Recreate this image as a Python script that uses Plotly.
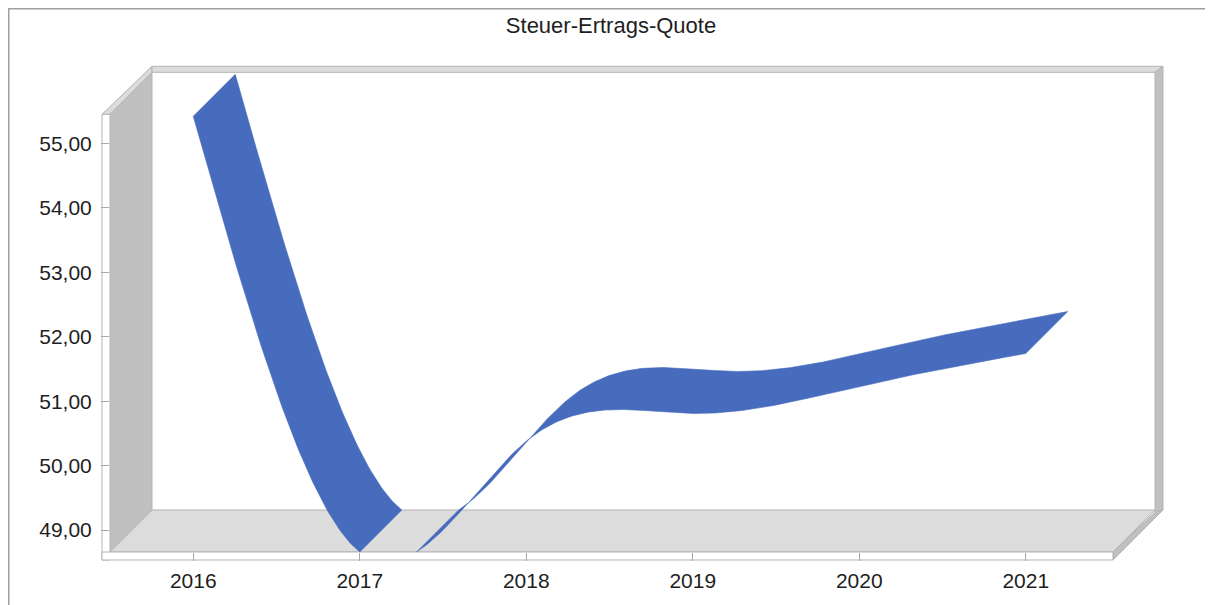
import numpy as np
import plotly.graph_objects as go

# ---------------- data ----------------
chart_title = "Steuer-Ertrags-Quote"
years = [2016, 2017, 2018, 2019, 2020, 2021]
quote = [55.42, 48.66, 50.38, 50.81, 51.23, 51.74]
year_labels = ["2016", "2017", "2018", "2019", "2020", "2021"]
y_tick_values = [49, 50, 51, 52, 53, 54, 55]
y_tick_labels = ["49,00", "50,00", "51,00", "52,00", "53,00", "54,00", "55,00"]

# ---------------- layout constants (pixels, figure coords; page has 8px body margin) ----------------
OFF = 8
FIG_W, FIG_H = 1213 - OFF, 605 - OFF
PL, PR = 110 - OFF, 1162 - OFF      # plot area left / right (px)
PT, PB = 66 - OFF, 552 - OFF        # plot area top / bottom (px)
FRONT_R = 1113 - OFF                # right end of the front floor edge
PX_PER_YEAR = 166.5
PX_PER_UNIT = 64.45
DEPTH = 42                  # 3D depth offset in px (right and up)
TH = 8                      # wall thickness in px
BLUE = "#476BBD"
FONT = "Liberation Sans"

y_min = min(quote)
x_lo = years[0] - 0.5
x_rng = [x_lo, x_lo + (PR - PL) / PX_PER_YEAR]
y_rng = [y_min, y_min + (PB - PT) / PX_PER_UNIT]
ddx = DEPTH / PX_PER_YEAR     # depth offset in axis units
ddy = DEPTH / PX_PER_UNIT


def natural_spline(xs, ys, n=80):
    """Smooth rendering path through the data points (natural cubic spline)."""
    xs = np.asarray(xs, float)
    ys = np.asarray(ys, float)
    k = len(xs)
    h = np.diff(xs)
    A = np.zeros((k, k))
    rhs = np.zeros(k)
    A[0, 0] = A[-1, -1] = 1.0
    for i in range(1, k - 1):
        A[i, i - 1] = h[i - 1]
        A[i, i] = 2 * (h[i - 1] + h[i])
        A[i, i + 1] = h[i]
        rhs[i] = 6 * ((ys[i + 1] - ys[i]) / h[i] - (ys[i] - ys[i - 1]) / h[i - 1])
    M = np.linalg.solve(A, rhs)
    tt, vv = [], []
    for i in range(k - 1):
        s = np.linspace(0, 1, n, endpoint=(i == k - 2))
        a = 1 - s
        t = xs[i] + s * h[i]
        v = a * ys[i] + s * ys[i + 1] + ((a ** 3 - a) * M[i] + (s ** 3 - s) * M[i + 1]) * h[i] ** 2 / 6
        tt.append(t)
        vv.append(v)
    return np.concatenate(tt), np.concatenate(vv)


t, v = natural_spline(years, quote)

# split the ribbon where it falls below the floor (axis minimum)
vis = v >= y_min - 1e-9
segments = []
i = 0
n = len(t)
while i < n:
    if not vis[i]:
        i += 1
        continue
    j = i
    while j + 1 < n and vis[j + 1]:
        j += 1
    ts = list(t[i:j + 1])
    vs = list(v[i:j + 1])
    if i > 0 and not vis[i - 1]:
        f = (y_min - v[i - 1]) / (v[i] - v[i - 1])
        ts.insert(0, t[i - 1] + f * (t[i] - t[i - 1]))
        vs.insert(0, y_min)
    if j + 1 < n and not vis[j + 1]:
        f = (y_min - v[j]) / (v[j + 1] - v[j])
        ts.append(t[j] + f * (t[j + 1] - t[j]))
        vs.append(y_min)
    segments.append((np.array(ts), np.array(vs)))
    i = j + 1

fig = go.Figure()
for ts, vs in segments:
    xf, yf = ts, vs
    xb, yb = ts + ddx, vs + ddy
    xp = np.concatenate([xf, xb[::-1], xf[:1]])
    yp = np.concatenate([yf, yb[::-1], yf[:1]])
    fig.add_trace(go.Scatter(x=xp, y=yp, mode="lines", fill="toself",
                             fillcolor=BLUE, line=dict(color=BLUE, width=0.6),
                             hoverinfo="skip", showlegend=False))


# ---------------- 3D frame (paper coordinates from pixel geometry) ----------------
def px(xp):
    return (xp - PL) / (PR - PL)


def py(yp):
    return (PB - yp) / (PB - PT)


def poly(points, fill, line="#b4b4b4", lw=1):
    d = "M " + " L ".join(f"{px(a):.5f},{py(b):.5f}" for a, b in points) + " Z"
    return dict(type="path", xref="paper", yref="paper", path=d, fillcolor=fill,
                line=dict(color=line, width=lw), layer="below")


y_front_top = PB - (max(quote) - y_min) * PX_PER_UNIT - 2
BX0, BY0 = PL + DEPTH, PB - DEPTH              # back-left-bottom corner
BR = FRONT_R + DEPTH
BT = y_front_top - DEPTH

shapes = [
    # outer border
    dict(type="rect", xref="paper", yref="paper", x0=px(0.75), y0=py(0.75), x1=px(1260), y1=py(660),
         line=dict(color="#a0a0a0", width=1.5), fillcolor="rgba(0,0,0,0)", layer="below"),
    # floor top face
    poly([(PL, PB), (FRONT_R, PB), (BR, BY0), (BX0, BY0)], "#dcdcdc"),
    # left wall inner face
    poly([(PL, PB), (PL, y_front_top), (BX0, BT), (BX0, BY0)], "#c0c0c0"),
    # left wall top face
    poly([(PL - TH, y_front_top), (PL, y_front_top), (BX0, BT), (BX0, BT - TH + 2)], "#dcdcdc"),
    # back wall top face
    poly([(BX0, BT), (BR, BT), (BR + TH, BT - TH + 2), (BX0, BT - TH + 2)], "#dcdcdc"),
    # back wall right face
    poly([(BR, BT), (BR + TH, BT - TH + 2), (BR + TH, BY0), (BR, BY0 + 2)], "#c0c0c0"),
    # floor right face
    poly([(FRONT_R, PB), (BR, BY0 + 2), (BR + TH, BY0), (FRONT_R, PB + TH)], "#c0c0c0"),
    # left axis strip (front face of left wall)
    poly([(PL - TH, y_front_top), (PL, y_front_top), (PL, PB + TH), (PL - TH, PB + TH)], "#ffffff"),
    # bottom axis strip (front face of floor)
    poly([(PL - TH, PB), (FRONT_R, PB), (FRONT_R, PB + TH), (PL - TH, PB + TH)], "#ffffff"),
]

axis_font = dict(family=FONT, size=21, color="#1e1e1e")
fig.update_layout(
    width=FIG_W, height=FIG_H,
    margin=dict(l=PL, r=FIG_W - PR, t=PT, b=FIG_H - PB, pad=0),
    paper_bgcolor="white", plot_bgcolor="rgba(0,0,0,0)",
    title=dict(text=chart_title, xref="container", yref="container",
               x=(611 - OFF) / FIG_W, y=1 - (25 - OFF) / FIG_H, xanchor="center", yanchor="middle",
               font=dict(family=FONT, size=22, color="#1e1e1e")),
    xaxis=dict(range=x_rng, tickvals=years, ticktext=year_labels, ticks="outside",
               ticklen=TH, tickcolor="#a8a8a8", tickwidth=1, showline=False,
               showgrid=False, zeroline=False, tickfont=axis_font, ticklabelstandoff=2,
               fixedrange=True),
    yaxis=dict(range=y_rng, tickvals=y_tick_values, ticktext=y_tick_labels, ticks="outside",
               ticklen=TH, tickcolor="#a8a8a8", tickwidth=1, showline=False,
               showgrid=False, zeroline=False, tickfont=axis_font, ticklabelstandoff=5,
               fixedrange=True),
    shapes=shapes,
    showlegend=False,
)

fig.write_html("out.html")
